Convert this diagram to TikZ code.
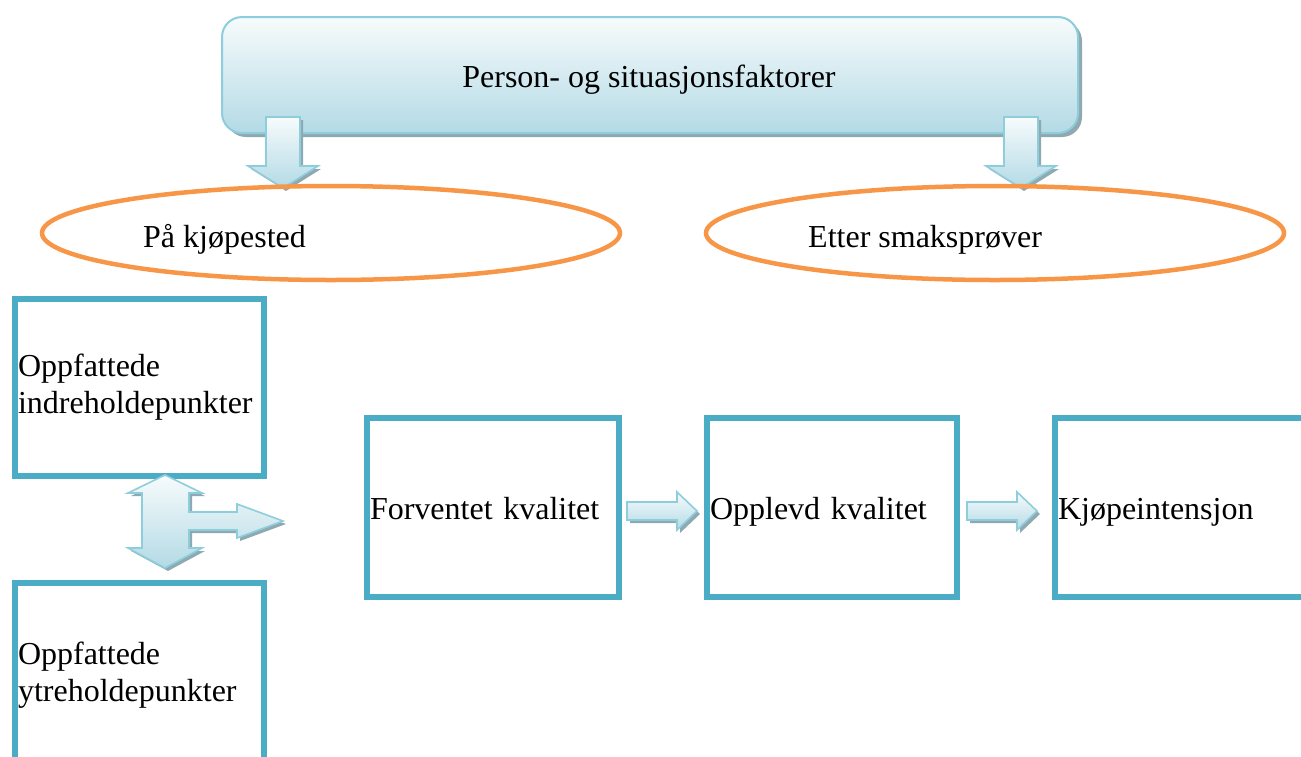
\documentclass[tikz,border=0pt]{standalone}
\usepackage{fontspec}
\setmainfont{Liberation Serif}
\usetikzlibrary{shapes.geometric,calc}
\definecolor{boxline}{HTML}{4BACC6}
\definecolor{ellline}{HTML}{F79646}
\definecolor{arrline}{HTML}{8ECDDB}
\definecolor{gtop}{HTML}{F7FBFC}
\definecolor{gbot}{HTML}{B3DAE5}
\definecolor{shad}{HTML}{8FA9B1}
\tikzset{
  txt/.style={font=\fontsize{32}{37}\selectfont, inner sep=0pt},
  stagebox/.style={draw=boxline, line width=6pt, rectangle, inner xsep=3pt, inner ysep=0pt, outer sep=0pt,
     align=left, font=\fontsize{32}{37}\selectfont},
  oneline/.style={text height=23pt, text depth=0pt},
  ovalbox/.style={draw=ellline, line width=4.5pt, ellipse, inner sep=0pt},
  blockarrow/.style={top color=gtop, bottom color=gbot, draw=arrline, line width=1.6pt, line join=miter},
  arrshadow/.style={fill=shad},
}
\begin{document}
\begin{tikzpicture}[x=1pt,y=-1pt]
\useasboundingbox (0,0) rectangle (1301,756);
\clip (0,0) rectangle (1301,756);
% top box
\fill[shad, rounded corners=20pt] (226,21) rectangle (1082,137);
\shade[top color=gtop, bottom color=gbot, draw=arrline, line width=2pt, rounded corners=20pt] (222,17) rectangle (1078,133);
\node[txt, anchor=base] (top) at (649,87) {Person- og situasjonsfaktorer};
% down arrows
\foreach \c in {283,1021}{
  \fill[arrshadow] ($(\c,117)+(3,3)$) -- ++(17,0) -- ++(0,49) -- ++(18,0) -- ++(-35,22) -- ++(-35,-22) -- ++(18,0) -- cycle;
  \shade[blockarrow] (\c-17,117) -- (\c+17,117) -- (\c+17,166) -- (\c+35,166) -- (\c,188) -- (\c-35,166) -- (\c-17,166) -- cycle;
}
% ellipses
\node[ovalbox, minimum width=578pt, minimum height=94pt] (e1) at (331,233) {};
\node[ovalbox, minimum width=578pt, minimum height=94pt] (e2) at (995,233) {};
\node[txt, anchor=base west] (t1) at (143,247) {På kjøpested};
\node[txt, anchor=base west] (t2) at (808,247) {Etter smaksprøver};
% boxes
\node[stagebox, anchor=north west, minimum width=249pt, minimum height=177pt, text width=243pt] (b1) at (15,298.5) {Oppfattede\\indreholdepunkter};
\node[stagebox, anchor=north west, minimum width=249pt, minimum height=184pt, text width=243pt] (b2) at (15,583) {Oppfattede\\ytreholdepunkter};
\node[stagebox, oneline, anchor=north west, minimum width=252pt, minimum height=179pt, text width=246pt] (b3) at (367,418) {Forventet kvalitet};
\node[stagebox, oneline, anchor=north west, minimum width=250pt, minimum height=179pt, text width=244pt] (b4) at (707,418) {Opplevd kvalitet};
\node[stagebox, oneline, anchor=north west, minimum width=252pt, minimum height=179pt, text width=246pt] (b5) at (1055,418) {Kjøpeintensjon};
% double arrow with branch
\begin{scope}[shift={(3,3)}]
\fill[arrshadow] (165,475) -- (202,493) -- (189,493) -- (189,512) -- (237,512) -- (237,504) -- (283,521) -- (237,538) -- (237,530) -- (189,530) -- (189,548) -- (202,548) -- (165,568) -- (128,548) -- (142,548) -- (142,493) -- (128,493) -- cycle;
\end{scope}
\shade[blockarrow] (165,475) -- (202,493) -- (189,493) -- (189,512) -- (237,512) -- (237,504) -- (283,521) -- (237,538) -- (237,530) -- (189,530) -- (189,548) -- (202,548) -- (165,568) -- (128,548) -- (142,548) -- (142,493) -- (128,493) -- cycle;
% right arrows
\foreach \s in {627,967}{
  \fill[arrshadow] (\s+3,505) -- (\s+53,505) -- (\s+53,495) -- (\s+73,514) -- (\s+53,533) -- (\s+53,523) -- (\s+3,523) -- cycle;
  \shade[blockarrow] (\s,502) -- (\s+50,502) -- (\s+50,492) -- (\s+70,511) -- (\s+50,530) -- (\s+50,520) -- (\s,520) -- cycle;
}
\end{tikzpicture}
\end{document}
